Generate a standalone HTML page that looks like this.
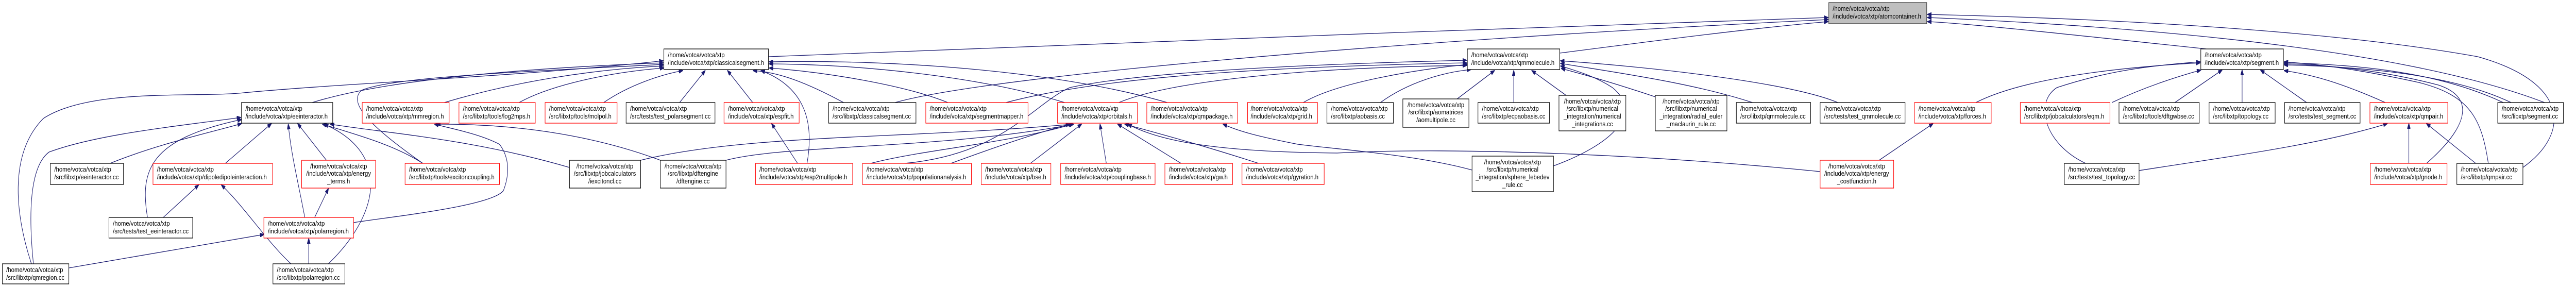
<!DOCTYPE html>
<html><head><meta charset="utf-8"><style>
html,body{margin:0;padding:0;background:#fff;overflow:hidden;width:100%;height:100%;}
svg{display:block;width:100vw;height:100vh;}
text{font-family:"Liberation Sans",sans-serif;font-size:12.5px;fill:#000;}
.e{fill:none;stroke:#191970;stroke-width:1.3;marker-end:url(#ar);}
.b{fill:#fff;stroke:#000;stroke-width:1.3;}
.r{fill:#fff;stroke:#ff0000;stroke-width:1.3;}
.g{fill:#bfbfbf;stroke:#404040;stroke-width:1.3;}
.m{text-anchor:middle;}
</style></head><body>
<svg viewBox="0 0 6550 557" preserveAspectRatio="none" xmlns="http://www.w3.org/2000/svg">
<defs><marker id="ar" markerWidth="11" markerHeight="8" refX="10" refY="4" orient="auto" markerUnits="userSpaceOnUse"><path d="M0,0 L11,4 L0,8 z" fill="#191970" stroke="#191970"/></marker></defs>
<g>
<path class="e" d="M1954,110 C2600,90 3800,55 4648,34"/>
<path class="e" d="M2276,199 C2500,150 3500,80 4648,38"/>
<path class="e" d="M3966,103 C4200,80 4450,55 4648,42"/>
<path class="e" d="M5610,95 C5300,70 5000,45 4901,42"/>
<path class="e" d="M6470,199 C6200,120 5700,60 4901,34"/>
<path class="e" d="M6415,325 C6535,260 6535,160 6300,110 C5900,55 5300,35 4901,28"/>
<path class="e" d="M80,512 C40,420 20,300 110,230 C230,170 500,190 620,180 C900,160 1300,150 1686,118"/>
<path class="e" d="M794,199 C1000,150 1400,130 1686,122"/>
<path class="e" d="M1075,317 C950,250 880,200 920,175 C1000,150 1300,140 1686,125"/>
<path class="e" d="M1130,199 C1300,160 1500,135 1686,128"/>
<path class="e" d="M1320,199 C1400,165 1550,140 1688,132"/>
<path class="e" d="M1535,199 C1600,165 1680,145 1736,137"/>
<path class="e" d="M1728,199 L1793,137"/>
<path class="e" d="M1914,199 L1850,137"/>
<path class="e" d="M2145,199 C2050,160 1980,140 1915,137"/>
<path class="e" d="M2052,317 C2070,240 2050,170 1935,137"/>
<path class="e" d="M2410,199 C2300,165 2100,140 1956,132"/>
<path class="e" d="M2707,199 C2500,150 2200,125 1956,124"/>
<path class="e" d="M2968,199 C2700,140 2300,115 1956,120"/>
<path class="e" d="M899,432 C1000,420 1250,400 1280,370 C1300,330 1290,300 1270,280 C1220,260 1150,250 1105,241"/>
<path class="e" d="M1679,311 C1500,260 1300,240 1110,241"/>
<path class="e" d="M2845,199 C3000,150 3400,130 3729,127"/>
<path class="e" d="M2558,199 C2800,150 3200,130 3729,122"/>
<path class="e" d="M2300,317 C2550,300 2630,200 2720,170 C2900,140 3300,125 3729,117"/>
<path class="e" d="M3314,199 C3400,160 3600,135 3733,125"/>
<path class="e" d="M3510,199 C3580,160 3670,140 3740,135"/>
<path class="e" d="M3705,192 L3800,137"/>
<path class="e" d="M3849,199 L3849,137"/>
<path class="e" d="M3982,185 L3895,137"/>
<path class="e" d="M4209,188 C4100,160 4030,145 3970,133"/>
<path class="e" d="M3950,322 C4100,280 4180,220 4100,170 C4060,150 4020,140 3968,128"/>
<path class="e" d="M4456,199 C4300,160 4100,140 3968,123"/>
<path class="e" d="M4673,199 C4550,160 4200,130 3968,118"/>
<path class="e" d="M2418,317 C2550,280 2650,255 2720,241"/>
<path class="e" d="M2620,317 L2750,241"/>
<path class="e" d="M2813,317 L2797,241"/>
<path class="e" d="M3003,317 L2842,241"/>
<path class="e" d="M3200,317 C3050,280 2950,260 2860,241"/>
<path class="e" d="M1629,311 C1900,260 2300,270 2727,241"/>
<path class="e" d="M1846,311 C2000,280 2400,290 2730,241"/>
<path class="e" d="M2214,317 C2350,290 2550,280 2728,241"/>
<path class="e" d="M4628,333 C4200,300 3700,285 3400,297 C3100,295 2950,275 2868,241"/>
<path class="e" d="M3743,330 C3600,300 3400,290 3300,280 C3200,265 3150,255 3110,241"/>
<path class="e" d="M280,317 C400,280 520,260 614,240"/>
<path class="e" d="M573,317 L690,240"/>
<path class="e" d="M830,311 L757,240"/>
<path class="e" d="M775,422 C760,360 740,300 733,241"/>
<path class="e" d="M375,422 C355,330 380,270 614,232"/>
<path class="e" d="M85,512 C70,400 80,320 125,295 C250,260 450,245 612,228"/>
<path class="e" d="M835,512 C960,420 1000,300 825,241"/>
<path class="e" d="M1075,317 C1000,280 900,260 820,241"/>
<path class="e" d="M1448,325 C1200,270 1000,260 840,241"/>
<path class="e" d="M415,422 L505,359"/>
<path class="e" d="M740,512 C680,470 620,400 563,359"/>
<path class="e" d="M800,422 L835,366"/>
<path class="e" d="M175,520 L671,455"/>
<path class="e" d="M785,512 L785,463"/>
<path class="e" d="M2028,317 L1962,240"/>
<path class="e" d="M4778,311 L4915,240"/>
<path class="e" d="M6125,317 L6125,240"/>
<path class="e" d="M6295,317 L6170,240"/>
<path class="e" d="M5439,331 C5700,300 5900,280 6070,240"/>
<path class="e" d="M5530,199 L5650,136"/>
<path class="e" d="M5701,199 L5701,136"/>
<path class="e" d="M5865,199 L5748,136"/>
<path class="e" d="M6065,199 C5950,160 5880,145 5808,137"/>
<path class="e" d="M6365,199 C6200,140 6000,125 5808,122"/>
<path class="e" d="M6385,199 C6250,150 6050,130 5808,126"/>
<path class="e" d="M6170,317 C6270,250 6300,190 6200,165 C6050,135 5900,125 5808,124"/>
<path class="e" d="M6327,317 C6310,230 6280,185 6150,160 C6000,135 5900,125 5808,120"/>
<path class="e" d="M5370,199 C5450,170 5530,150 5596,136"/>
<path class="e" d="M5024,199 C5150,150 5400,130 5594,122"/>
<path class="e" d="M5303,317 C5200,280 5170,200 5230,170 C5350,140 5450,128 5594,120"/>
</g>
<g>
<rect class="g" x="4650" y="5" width="249" height="41"/>
<rect class="b" x="1688" y="95" width="266" height="40"/>
<rect class="b" x="3731" y="95" width="235" height="40"/>
<rect class="b" x="5596" y="95" width="210" height="40"/>
<rect class="b" x="614" y="199" width="232" height="40"/>
<rect class="r" x="921" y="199" width="221" height="40"/>
<rect class="r" x="1167" y="199" width="194" height="40"/>
<rect class="r" x="1386" y="199" width="183" height="40"/>
<rect class="b" x="1592" y="199" width="226" height="40"/>
<rect class="r" x="1841" y="199" width="191" height="40"/>
<rect class="b" x="2107" y="199" width="222" height="40"/>
<rect class="r" x="2354" y="199" width="260" height="40"/>
<rect class="r" x="2689" y="199" width="203" height="40"/>
<rect class="r" x="2916" y="199" width="231" height="40"/>
<rect class="r" x="3172" y="199" width="178" height="40"/>
<rect class="b" x="3374" y="199" width="169" height="40"/>
<rect class="b" x="3567" y="192" width="168" height="55"/>
<rect class="b" x="3758" y="199" width="182" height="40"/>
<rect class="b" x="3964" y="185" width="170" height="69"/>
<rect class="b" x="4209" y="185" width="182" height="69"/>
<rect class="b" x="4415" y="199" width="189" height="40"/>
<rect class="b" x="4628" y="199" width="216" height="40"/>
<rect class="r" x="4868" y="199" width="195" height="40"/>
<rect class="r" x="5137" y="199" width="228" height="40"/>
<rect class="b" x="5388" y="199" width="204" height="40"/>
<rect class="b" x="5617" y="199" width="168" height="40"/>
<rect class="b" x="5809" y="199" width="192" height="40"/>
<rect class="r" x="6026" y="199" width="198" height="40"/>
<rect class="b" x="6351" y="199" width="167" height="40"/>
<rect class="b" x="128" y="317" width="186" height="41"/>
<rect class="r" x="389" y="317" width="304" height="41"/>
<rect class="r" x="767" y="311" width="188" height="54"/>
<rect class="r" x="1030" y="317" width="240" height="41"/>
<rect class="b" x="1448" y="311" width="181" height="54"/>
<rect class="b" x="1679" y="311" width="167" height="54"/>
<rect class="r" x="1921" y="317" width="247" height="41"/>
<rect class="r" x="2193" y="317" width="277" height="41"/>
<rect class="r" x="2495" y="317" width="177" height="41"/>
<rect class="r" x="2697" y="317" width="240" height="41"/>
<rect class="r" x="2962" y="317" width="172" height="41"/>
<rect class="r" x="3158" y="317" width="209" height="41"/>
<rect class="b" x="3743" y="303" width="207" height="69"/>
<rect class="r" x="4628" y="311" width="187" height="54"/>
<rect class="b" x="5249" y="317" width="190" height="41"/>
<rect class="r" x="6027" y="317" width="195" height="41"/>
<rect class="b" x="6247" y="317" width="168" height="41"/>
<rect class="b" x="277" y="422" width="213" height="40"/>
<rect class="r" x="671" y="422" width="228" height="40"/>
<rect class="b" x="6" y="512" width="169" height="39"/>
<rect class="b" x="694" y="512" width="183" height="39"/>
</g>
<g transform="scale(1.19,1)">
<text x="3916.0" y="21">/home/votca/votca/xtp</text><text x="3916.0" y="36">/include/votca/xtp/atomcontainer.h</text>
<text x="1426.9" y="111">/home/votca/votca/xtp</text><text x="1426.9" y="126">/include/votca/xtp/classicalsegment.h</text>
<text x="3143.7" y="111">/home/votca/votca/xtp</text><text x="3143.7" y="126">/include/votca/xtp/qmmolecule.h</text>
<text x="4710.9" y="111">/home/votca/votca/xtp</text><text x="4710.9" y="126">/include/votca/xtp/segment.h</text>
<text x="524.4" y="215">/home/votca/votca/xtp</text><text x="524.4" y="230">/include/votca/xtp/eeinteractor.h</text>
<text x="782.4" y="215">/home/votca/votca/xtp</text><text x="782.4" y="230">/include/votca/xtp/mmregion.h</text>
<text x="989.1" y="215">/home/votca/votca/xtp</text><text x="989.1" y="230">/src/libxtp/tools/log2mps.h</text>
<text x="1173.1" y="215">/home/votca/votca/xtp</text><text x="1173.1" y="230">/src/libxtp/tools/molpol.h</text>
<text x="1346.2" y="215">/home/votca/votca/xtp</text><text x="1346.2" y="230">/src/tests/test_polarsegment.cc</text>
<text x="1555.5" y="215">/home/votca/votca/xtp</text><text x="1555.5" y="230">/include/votca/xtp/espfit.h</text>
<text x="1779.0" y="215">/home/votca/votca/xtp</text><text x="1779.0" y="230">/src/libxtp/classicalsegment.cc</text>
<text x="1986.6" y="215">/home/votca/votca/xtp</text><text x="1986.6" y="230">/include/votca/xtp/segmentmapper.h</text>
<text x="2268.1" y="215">/home/votca/votca/xtp</text><text x="2268.1" y="230">/include/votca/xtp/orbitals.h</text>
<text x="2458.8" y="215">/home/votca/votca/xtp</text><text x="2458.8" y="230">/include/votca/xtp/qmpackage.h</text>
<text x="2672.3" y="215">/home/votca/votca/xtp</text><text x="2672.3" y="230">/include/votca/xtp/grid.h</text>
<text x="2843.7" y="215">/home/votca/votca/xtp</text><text x="2843.7" y="230">/src/libxtp/aobasis.cc</text>
<text class="m" x="3068.1" y="208">/home/votca/votca/xtp</text><text class="m" x="3068.1" y="222">/src/libxtp/aomatrices</text><text class="m" x="3068.1" y="237">/aomultipole.cc</text>
<text x="3166.4" y="215">/home/votca/votca/xtp</text><text x="3166.4" y="230">/src/libxtp/ecpaobasis.cc</text>
<text class="m" x="3402.5" y="201">/home/votca/votca/xtp</text><text class="m" x="3402.5" y="215">/src/libxtp/numerical</text><text class="m" x="3402.5" y="230">_integration/numerical</text><text class="m" x="3402.5" y="245">_integrations.cc</text>
<text class="m" x="3613.4" y="201">/home/votca/votca/xtp</text><text class="m" x="3613.4" y="215">/src/libxtp/numerical</text><text class="m" x="3613.4" y="230">_integration/radial_euler</text><text class="m" x="3613.4" y="245">_maclaurin_rule.cc</text>
<text x="3718.5" y="215">/home/votca/votca/xtp</text><text x="3718.5" y="230">/src/libxtp/qmmolecule.cc</text>
<text x="3897.5" y="215">/home/votca/votca/xtp</text><text x="3897.5" y="230">/src/tests/test_qmmolecule.cc</text>
<text x="4099.2" y="215">/home/votca/votca/xtp</text><text x="4099.2" y="230">/include/votca/xtp/forces.h</text>
<text x="4325.2" y="215">/home/votca/votca/xtp</text><text x="4325.2" y="230">/src/libxtp/jobcalculators/eqm.h</text>
<text x="4536.1" y="215">/home/votca/votca/xtp</text><text x="4536.1" y="230">/src/libxtp/tools/dftgwbse.cc</text>
<text x="4728.6" y="215">/home/votca/votca/xtp</text><text x="4728.6" y="230">/src/libxtp/topology.cc</text>
<text x="4890.0" y="215">/home/votca/votca/xtp</text><text x="4890.0" y="230">/src/tests/test_segment.cc</text>
<text x="5072.3" y="215">/home/votca/votca/xtp</text><text x="5072.3" y="230">/include/votca/xtp/qmpair.h</text>
<text x="5345.4" y="215">/home/votca/votca/xtp</text><text x="5345.4" y="230">/src/libxtp/segment.cc</text>
<text x="116.0" y="333">/home/votca/votca/xtp</text><text x="116.0" y="348">/src/libxtp/eeinteractor.cc</text>
<text x="335.3" y="333">/home/votca/votca/xtp</text><text x="335.3" y="348">/include/votca/xtp/dipoledipoleinteraction.h</text>
<text class="m" x="723.5" y="327">/home/votca/votca/xtp</text><text class="m" x="723.5" y="341">/include/votca/xtp/energy</text><text class="m" x="723.5" y="356">_terms.h</text>
<text x="873.9" y="333">/home/votca/votca/xtp</text><text x="873.9" y="348">/src/libxtp/tools/excitoncoupling.h</text>
<text class="m" x="1292.4" y="327">/home/votca/votca/xtp</text><text class="m" x="1292.4" y="341">/src/libxtp/jobcalculators</text><text class="m" x="1292.4" y="356">/iexcitoncl.cc</text>
<text class="m" x="1480.7" y="327">/home/votca/votca/xtp</text><text class="m" x="1480.7" y="341">/src/libxtp/dftengine</text><text class="m" x="1480.7" y="356">/dftengine.cc</text>
<text x="1622.7" y="333">/home/votca/votca/xtp</text><text x="1622.7" y="348">/include/votca/xtp/esp2multipole.h</text>
<text x="1851.3" y="333">/home/votca/votca/xtp</text><text x="1851.3" y="348">/include/votca/xtp/populationanalysis.h</text>
<text x="2105.0" y="333">/home/votca/votca/xtp</text><text x="2105.0" y="348">/include/votca/xtp/bse.h</text>
<text x="2274.8" y="333">/home/votca/votca/xtp</text><text x="2274.8" y="348">/include/votca/xtp/couplingbase.h</text>
<text x="2497.5" y="333">/home/votca/votca/xtp</text><text x="2497.5" y="348">/include/votca/xtp/gw.h</text>
<text x="2662.2" y="333">/home/votca/votca/xtp</text><text x="2662.2" y="348">/include/votca/xtp/gyration.h</text>
<text class="m" x="3231.9" y="319">/home/votca/votca/xtp</text><text class="m" x="3231.9" y="333">/src/libxtp/numerical</text><text class="m" x="3231.9" y="348">_integration/sphere_lebedev</text><text class="m" x="3231.9" y="363">_rule.cc</text>
<text class="m" x="3967.2" y="327">/home/votca/votca/xtp</text><text class="m" x="3967.2" y="341">/include/votca/xtp/energy</text><text class="m" x="3967.2" y="356">_costfunction.h</text>
<text x="4419.3" y="333">/home/votca/votca/xtp</text><text x="4419.3" y="348">/src/tests/test_topology.cc</text>
<text x="5073.1" y="333">/home/votca/votca/xtp</text><text x="5073.1" y="348">/include/votca/xtp/gnode.h</text>
<text x="5258.0" y="333">/home/votca/votca/xtp</text><text x="5258.0" y="348">/src/libxtp/qmpair.cc</text>
<text x="241.2" y="438">/home/votca/votca/xtp</text><text x="241.2" y="453">/src/tests/test_eeinteractor.cc</text>
<text x="572.3" y="438">/home/votca/votca/xtp</text><text x="572.3" y="453">/include/votca/xtp/polarregion.h</text>
<text x="13.4" y="528">/home/votca/votca/xtp</text><text x="13.4" y="543">/src/libxtp/qmregion.cc</text>
<text x="591.6" y="528">/home/votca/votca/xtp</text><text x="591.6" y="543">/src/libxtp/polarregion.cc</text>
</g>
</svg>
</body></html>
